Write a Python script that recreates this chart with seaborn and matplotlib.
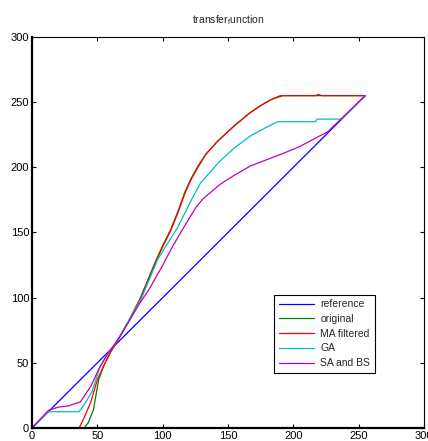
import matplotlib
matplotlib.use('Agg')
import matplotlib.pyplot as plt
import pandas as pd
import seaborn as sns

# curves (x = input level, y = output level)
ref_x = [0, 255]
ref_y = [0, 255]

orig_x = [0, 40, 43, 47, 51, 55, 60, 66, 75, 83, 95, 100, 106, 112, 117, 122,
          127, 133, 142, 155, 167, 176, 183, 192, 217, 219, 222, 255]
orig_y = [0, 0, 4, 14, 37, 48, 58, 68, 84, 100, 129, 140, 152, 167, 181, 192,
          201, 210, 220, 232, 242, 248, 252, 255, 255, 256, 255, 255]

ma_x = [0, 36, 40, 45, 50, 55, 60, 66, 75, 83, 95, 100, 106, 112, 117, 122,
        127, 133, 142, 155, 167, 176, 183, 190, 255]
ma_y = [0, 0, 8, 20, 37, 48, 58, 68, 84, 99, 128, 139, 151, 166, 180, 191,
        200, 210, 220, 232, 242, 248, 252, 255, 255]

ga_x = [0, 12.5, 36, 40, 46, 52, 58, 66, 75, 84, 96, 104, 111, 118, 123, 129,
        136, 144, 155, 167, 178, 188, 217, 218, 237, 255]
ga_y = [0, 12.5, 12.5, 18, 28, 47, 57, 68, 84, 100, 129, 142, 153, 167, 177, 188,
        196, 205, 215, 224, 230, 235, 235, 237, 237, 255]

sa_x = [0, 12.5, 20, 28, 37, 41, 45, 52, 58, 66, 75, 82, 90, 99, 108, 115, 121,
        126, 131, 137, 144, 155, 167, 180, 193, 205, 218, 226, 255]
sa_y = [0, 13.5, 16, 17, 20, 26, 32, 47, 57, 68, 83, 95, 107, 123, 140, 152, 162,
        170, 176, 181, 187, 194, 201, 206, 211, 216, 223, 227, 255]

labels = ['reference', 'original', 'MA filtered', 'GA', 'SA and BS']
colors = ['#0000ff', '#008000', '#ff0000', '#00bfbf', '#bf00bf']

series = [(ref_x, ref_y), (orig_x, orig_y), (ma_x, ma_y), (ga_x, ga_y), (sa_x, sa_y)]
df = pd.concat([pd.DataFrame({'x': xs, 'y': ys, 'curve': lab})
                for (xs, ys), lab in zip(series, labels)], ignore_index=True)

sns.set_style('ticks')
plt.rcParams['font.family'] = ['Liberation Sans', 'DejaVu Sans']
plt.rcParams['mathtext.default'] = 'regular'

fig = plt.figure(figsize=(4.28, 4.41), dpi=100)
ax = fig.add_axes([32 / 428, 13 / 441, 392 / 428, 391 / 441])

sns.lineplot(data=df, x='x', y='y', hue='curve', hue_order=labels,
             palette=dict(zip(labels, colors)), estimator=None, sort=False,
             linewidth=0.9, ax=ax)

ax.set_xlim(0, 300)
ax.set_ylim(0, 300)
ax.set_xticks(range(0, 301, 50))
ax.set_yticks(range(0, 301, 50))
ax.set_xlabel('')
ax.set_ylabel('')
ax.tick_params(direction='in', length=3, width=0.8, labelsize=8, colors='black',
               top=True, right=True, pad=2)
for side, sp in ax.spines.items():
    sp.set_visible(True)
    sp.set_color('black')
    sp.set_linewidth(1.6 if side in ('left', 'bottom') else 0.8)

ax.set_title('transfer$_{f}$unction', fontsize=7.5, pad=10)

leg = ax.legend(loc='lower right', bbox_to_anchor=(0.875, 0.141), fontsize=7.5,
                frameon=True, fancybox=False, framealpha=1, edgecolor='black',
                handlelength=3.4, handletextpad=0.6, labelspacing=0.45,
                borderpad=0.45, borderaxespad=0, title=None)
leg.get_frame().set_linewidth(0.8)
for line in leg.get_lines():
    line.set_linewidth(0.9)

fig.savefig('out.png', dpi=100)
